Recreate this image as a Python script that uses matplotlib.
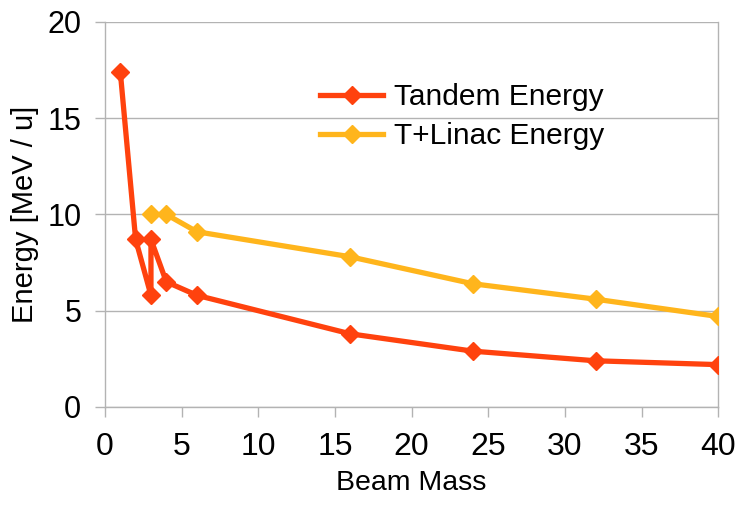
import matplotlib.pyplot as plt

plt.rcParams['font.family'] = ['Liberation Sans', 'DejaVu Sans']

# beam mass vs energy per nucleon
tandem_mass = [1, 2, 3, 3, 4, 6, 16, 24, 32, 40]
tandem_energy = [17.4, 8.7, 5.8, 8.7, 6.5, 5.8, 3.8, 2.9, 2.4, 2.2]
linac_mass = [3, 4, 6, 16, 24, 32, 40]
linac_energy = [10.0, 10.0, 9.1, 7.8, 6.4, 5.6, 4.7]

x_ticks = [0, 5, 10, 15, 20, 25, 30, 35, 40]
y_ticks = [0, 5, 10, 15, 20]

fig = plt.figure(figsize=(7.52, 5.09), dpi=100)
ax = fig.add_axes([0.1396, 0.2004, 0.8154, 0.7566])

ax.plot(tandem_mass, tandem_energy, color='#ff420e', lw=3.8, marker='D',
        markersize=9, label='Tandem Energy', zorder=3)
ax.plot(linac_mass, linac_energy, color='#ffb51c', lw=3.8, marker='D',
        markersize=9, label='T+Linac Energy', zorder=3)

ax.set_xlim(0, 40)
ax.set_ylim(0, 20)
ax.set_xticks(x_ticks)
ax.set_yticks(y_ticks)
ax.tick_params(length=7, width=1, color='#b3b3b3')
ax.tick_params(axis='y', labelsize=22, pad=10)
ax.tick_params(axis='x', labelsize=23, pad=11)
ax.grid(axis='y', color='#b3b3b3', lw=1)
ax.set_axisbelow(True)
for side in ['left', 'right', 'bottom']:
    ax.spines[side].set_color('#b3b3b3')
    ax.spines[side].set_linewidth(1)
ax.spines['top'].set_visible(False)

ax.set_xlabel('Beam Mass', fontsize=20.5, labelpad=6)
ax.set_ylabel('Energy [MeV / u]', fontsize=21, labelpad=6)

ax.legend(loc='upper left', bbox_to_anchor=(0.327, 0.88), frameon=False,
          fontsize=21.5, handlelength=2.1, handletextpad=0.35, labelspacing=0.38,
          borderpad=0)

fig.savefig('out.png', dpi=100)
